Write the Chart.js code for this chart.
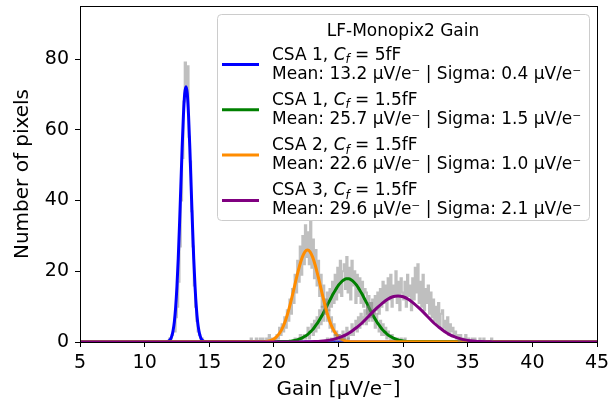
<!DOCTYPE html>
<html>
<head>
<meta charset="utf-8">
<title>LF-Monopix2 Gain</title>
<script src="https://cdn.jsdelivr.net/npm/chart.js"></script>
<style>
  html, body { margin: 0; padding: 0; background: #fff; }
</style>
</head>
<body>
<canvas id="myChart" width="609" height="406"></canvas>
<script>
    // --- data ---
    var xMin = 5, xMax = 45, yMin = 0, yMax = 95;
    var xTickStep = 5, yTickStep = 20;

    var legendTitle = 'LF-Monopix2 Gain';
    var csaNames = ['CSA 1', 'CSA 1', 'CSA 2', 'CSA 3'];
    var cfValues = ['5fF', '1.5fF', '1.5fF', '1.5fF'];
    var means = ['13.2', '25.7', '22.6', '29.6'];
    var sigmas = ['0.4', '1.5', '1.0', '2.1'];
    var unit = 'µV/e⁻';

    // histograms: first bin edge, bin width, counts per bin
    var histStart = [11.8, 21.5, 18.0, 24.0];
    var histWidth = [0.1, 0.1, 0.1, 0.1];
    var countsCsa1_5fF = [0, 1, 1, 2, 3, 3, 7, 10, 17, 27, 40, 52, 68, 79, 70, 78, 58, 51, 37, 27,
        16, 10, 6, 3, 2, 1, 1, 0];
    var countsCsa1_15fF = [
        0, 1, 0, 0, 1, 2, 0, 1, 2, 1,
        2, 4, 1, 3, 5, 2, 6, 3, 7, 4,
        9, 5, 10, 6, 12, 8, 14, 9, 15, 10,
        17, 11, 19, 12, 21, 14, 23, 13, 20, 22,
        15, 24, 14, 21, 12, 23, 16, 20, 11, 19,
        13, 18, 11, 17, 10, 15, 14, 8, 13, 7,
        11, 6, 9, 4, 8, 5, 3, 6, 2, 5,
        2, 4, 1, 3, 2, 0, 2, 1, 1, 0,
        1, 0, 0, 1, 0, 0, 1, 0, 0, 0];
    var countsCsa2_15fF = [
        0, 0, 1, 0, 0, 0, 1, 0, 0, 1,
        0, 1, 0, 0, 1, 0, 2, 0, 1, 0,
        1, 0, 2, 1, 4, 2, 5, 3, 7, 4,
        9, 6, 12, 8, 15, 11, 19, 14, 23, 17,
        27, 19, 30, 22, 33, 24, 31, 22, 34, 21,
        29, 18, 26, 16, 23, 13, 19, 10, 16, 8,
        12, 6, 9, 4, 7, 3, 5, 2, 3, 1,
        2, 1, 1, 0, 1, 0, 0, 1, 0, 0];
    var countsCsa3_15fF = [
        0, 1, 0, 0, 1, 0, 1, 2, 0, 1,
        2, 0, 1, 3, 1, 2, 4, 1, 3, 2,
        5, 2, 4, 6, 3, 7, 4, 8, 5, 7,
        9, 5, 10, 6, 11, 7, 12, 8, 13, 9,
        14, 8, 15, 10, 17, 11, 16, 9, 18, 12,
        19, 10, 16, 13, 20, 11, 17, 9, 18, 14,
        12, 17, 10, 19, 13, 16, 9, 18, 12, 21,
        14, 22, 11, 17, 10, 19, 9, 15, 11, 16,
        8, 14, 7, 12, 6, 10, 5, 11, 4, 8,
        9, 4, 6, 3, 7, 2, 5, 3, 4, 2,
        3, 1, 2, 0, 2, 1, 0, 1, 2, 0,
        1, 0, 0, 1, 0, 1, 0, 0, 0, 1,
        0, 0, 1, 0, 0, 0, 0, 0, 1, 0];

    // fitted curves: first x, x step, heights
    var fitStart = [11.6, 21.0, 19.0, 22.0];
    var fitStep = [0.1, 0.2, 0.2, 0.4];
    var fitCsa1_5fF = [0.02, 0.06, 0.16, 0.37, 0.8, 1.65, 3.2, 5.7, 9.8, 15.7, 23.5, 33.2, 43.9, 54.6,
        63.9, 70.2, 72.2, 70.2, 63.9, 54.6, 43.9, 33.2, 23.5, 15.7, 9.8, 5.7, 3.2, 1.65, 0.8, 0.37,
        0.16, 0.06, 0.02];
    var fitCsa1_15fF = [0.13, 0.2, 0.29, 0.43, 0.61, 0.86, 1.18, 1.6, 2.1, 2.8, 3.5, 4.5, 5.5, 6.7,
        8.0, 9.4, 10.9, 12.3, 13.7, 14.9, 16.1, 16.9, 17.5, 17.86, 17.86, 17.5, 16.9, 16.1, 14.9,
        13.7, 12.3, 10.9, 9.4, 8.0, 6.7, 5.5, 4.5, 3.5, 2.8, 2.1, 1.6, 1.18, 0.86, 0.61, 0.43,
        0.29, 0.2, 0.13];
    var fitCsa2_15fF = [0.04, 0.08, 0.16, 0.29, 0.52, 0.88, 1.46, 2.3, 3.5, 5.1, 7.2, 9.8, 12.7,
        15.8, 18.9, 21.7, 24.0, 25.5, 26.0, 25.5, 24.0, 21.7, 18.9, 15.8, 12.7, 9.8, 7.2, 5.1, 3.5,
        2.3, 1.46, 0.88, 0.52, 0.29, 0.16, 0.08, 0.04];
    var fitCsa3_15fF = [0.02, 0.04, 0.07, 0.13, 0.22, 0.37, 0.6, 0.95, 1.45, 2.1, 3.0, 4.1, 5.3,
        6.8, 8.3, 9.7, 11.0, 12.1, 12.8, 13.0, 12.8, 12.1, 11.0, 9.7, 8.3, 6.8, 5.3, 4.1, 3.0, 2.1,
        1.45, 0.95, 0.6, 0.37, 0.22, 0.13, 0.07, 0.04, 0.02];

    var histCounts = [countsCsa1_5fF, countsCsa1_15fF, countsCsa2_15fF, countsCsa3_15fF];
    var fitHeights = [fitCsa1_5fF, fitCsa1_15fF, fitCsa2_15fF, fitCsa3_15fF];
    var colors = ['#0000ff', '#008000', '#ff8c00', '#800080'];

    var FONT = '"DejaVu Sans", sans-serif';

    function histPoints(k) {
        var pts = [{x: histStart[k], y: 0}];
        var c = histCounts[k];
        for (var i = 0; i < c.length; i++) {
            pts.push({x: histStart[k] + i * histWidth[k], y: c[i]});
        }
        pts.push({x: histStart[k] + c.length * histWidth[k], y: 0});
        return pts;
    }

    function fitPoints(k) {
        var pts = [{x: xMin, y: 0}];
        var h = fitHeights[k];
        for (var i = 0; i < h.length; i++) {
            pts.push({x: fitStart[k] + i * fitStep[k], y: h[i]});
        }
        pts.push({x: xMax, y: 0});
        return pts;
    }

    var datasets = [];
    for (var k = 0; k < 4; k++) {
        datasets.push({
            label: 'hist ' + k,
            data: histPoints(k),
            stepped: 'before',
            borderColor: 'rgba(128,128,128,0.5)',
            borderWidth: 2,
            pointRadius: 0,
            fill: false,
            order: 20 - 2 * k
        });
        datasets.push({
            label: csaNames[k],
            data: fitPoints(k),
            cubicInterpolationMode: 'monotone',
            borderColor: colors[k],
            borderWidth: 3,
            pointRadius: 0,
            fill: false,
            order: 19 - 2 * k
        });
    }

    // black frame on all four sides, like matplotlib spines
    var framePlugin = {
        id: 'frame',
        afterDatasetsDraw: function (chart) {
            var a = chart.chartArea, ctx = chart.ctx;
            ctx.save();
            ctx.strokeStyle = '#000';
            ctx.lineWidth = 1;
            ctx.strokeRect(Math.round(a.left) + 0.5, Math.round(a.top) + 0.5,
                Math.round(a.right - a.left), Math.round(a.bottom - a.top));
            ctx.restore();
        }
    };

    function drawParts(ctx, parts, x, y) {
        parts.forEach(function (p) {
            ctx.font = (p.italic ? 'italic ' : '') + p.size + 'px ' + FONT;
            ctx.fillText(p.text, x, y + (p.dy || 0));
            x += ctx.measureText(p.text).width;
        });
    }

    var legendPlugin = {
        id: 'richLegend',
        afterDraw: function (chart) {
            var ctx = chart.ctx;
            var fs = 17;
            var left = 217.5, top = 14.5, right = 589.5, bottom = 220.5, r = 4;
            ctx.save();
            ctx.beginPath();
            ctx.moveTo(left + r, top);
            ctx.arcTo(right, top, right, bottom, r);
            ctx.arcTo(right, bottom, left, bottom, r);
            ctx.arcTo(left, bottom, left, top, r);
            ctx.arcTo(left, top, right, top, r);
            ctx.closePath();
            ctx.fillStyle = 'rgba(255,255,255,0.8)';
            ctx.fill();
            ctx.strokeStyle = '#cccccc';
            ctx.lineWidth = 1;
            ctx.stroke();

            ctx.fillStyle = '#000';
            ctx.textBaseline = 'alphabetic';
            ctx.textAlign = 'center';
            ctx.font = fs + 'px ' + FONT;
            ctx.fillText(legendTitle, 403, 35.5);
            ctx.textAlign = 'left';

            for (var k = 0; k < csaNames.length; k++) {
                var base = 59.5 + 45.3 * k;
                ctx.strokeStyle = colors[k];
                ctx.lineWidth = 3;
                ctx.beginPath();
                ctx.moveTo(222, base + 5);
                ctx.lineTo(259, base + 5);
                ctx.stroke();
                drawParts(ctx, [
                    {text: csaNames[k] + ', ', size: fs},
                    {text: 'C', size: fs, italic: true},
                    {text: 'f', size: fs * 0.7, italic: true, dy: 3.5},
                    {text: ' = ' + cfValues[k], size: fs}
                ], 272, base);
                drawParts(ctx, [
                    {text: 'Mean: ' + means[k] + ' ' + unit + ' | Sigma: ' + sigmas[k] + ' ' + unit, size: fs}
                ], 272, base + 19);
            }
            ctx.restore();
        }
    };

    var ctx = document.getElementById('myChart').getContext('2d');
    var chart = new Chart(ctx, {
        type: 'line',
        data: { datasets: datasets },
        options: {
            responsive: false,
            animation: false,
            devicePixelRatio: 1,
            layout: { padding: { left: 0, right: 12, top: 6, bottom: 0 } },
            plugins: {
                legend: { display: false },
                tooltip: { enabled: false }
            },
            scales: {
                x: {
                    type: 'linear',
                    min: xMin,
                    max: xMax,
                    ticks: {
                        stepSize: xTickStep,
                        color: '#000',
                        maxRotation: 0,
                        padding: 5,
                        font: { family: FONT, size: 19 }
                    },
                    grid: { drawOnChartArea: false, drawTicks: true, tickLength: 5, color: '#000', tickWidth: 1 },
                    border: { display: true, color: '#000', width: 1 },
                    title: {
                        display: true,
                        text: 'Gain [' + unit + ']',
                        color: '#000',
                        font: { family: FONT, size: 20 },
                        padding: { top: 0, bottom: 4 }
                    },
                    afterFit: function (scale) {
                        scale.height = 64;
                        scale.paddingLeft = 0;
                        scale.paddingRight = 0;
                    }
                },
                y: {
                    type: 'linear',
                    min: yMin,
                    max: yMax,
                    ticks: {
                        stepSize: yTickStep,
                        includeBounds: false,
                        color: '#000',
                        padding: 6,
                        font: { family: FONT, size: 19 }
                    },
                    grid: { drawOnChartArea: false, drawTicks: true, tickLength: 5, color: '#000', tickWidth: 1 },
                    border: { display: true, color: '#000', width: 1 },
                    title: {
                        display: true,
                        text: 'Number of pixels',
                        color: '#000',
                        font: { family: FONT, size: 20 },
                        padding: { top: 11, bottom: 0 }
                    },
                    afterFit: function (scale) {
                        scale.width = 80;
                        scale.paddingTop = 0;
                        scale.paddingBottom = 0;
                    }
                }
            }
        },
        plugins: [framePlugin, legendPlugin]
    });
</script>
</body>
</html>
